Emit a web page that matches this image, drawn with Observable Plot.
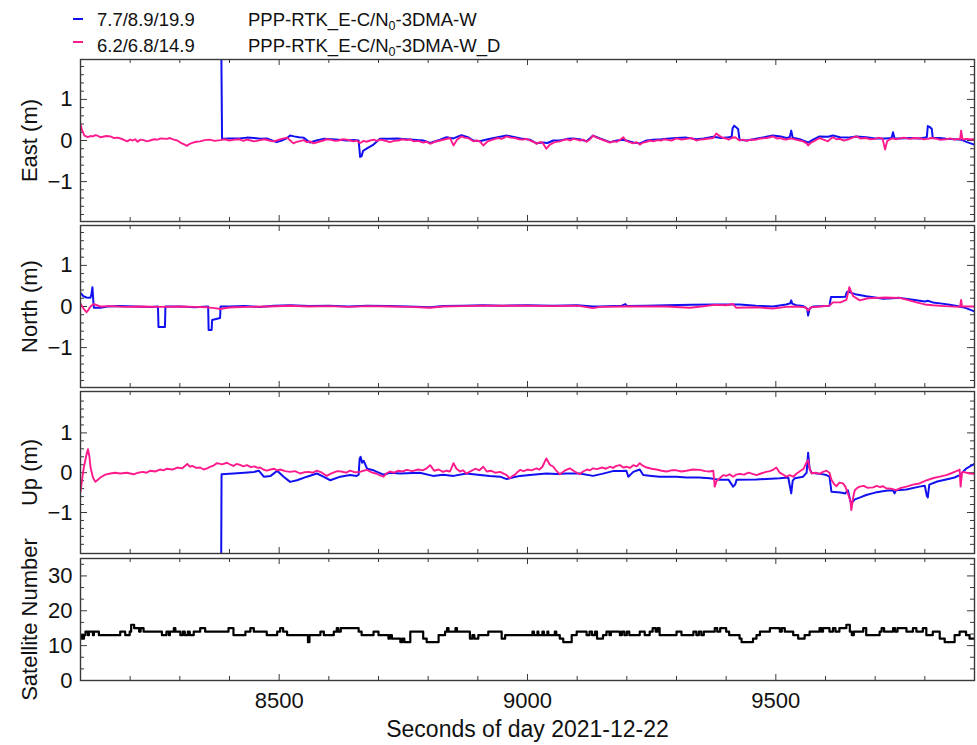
<!DOCTYPE html>
<html><head><meta charset="utf-8">
<script src="https://cdn.jsdelivr.net/npm/d3@7"></script>
<script src="https://cdn.jsdelivr.net/npm/@observablehq/plot@0.6"></script>
<style>
body{margin:0;background:#fff;font-family:"Liberation Sans",Arial,sans-serif;}
#wrap{position:relative;width:977px;height:745px;overflow:hidden;background:#fff;}
.panel{position:absolute;left:0;}
.leg{position:absolute;font-size:18.5px;color:#111;white-space:nowrap;line-height:1;}
.leg sub{font-size:0.68em;vertical-align:-0.3em;line-height:0;}
.sw{position:absolute;width:10px;height:2px;}
</style></head><body>
<div id="wrap">
  <div class="sw" style="left:73px;top:18px;background:#1010f0"></div>
  <div class="leg" style="left:97px;top:11px">7.7/8.9/19.9</div>
  <div class="leg" style="left:248px;top:11px">PPP-RTK_E-C/N<sub>0</sub>-3DMA-W</div>
  <div class="sw" style="left:73px;top:41px;background:#ff1a8c"></div>
  <div class="leg" style="left:97px;top:37px">6.2/6.8/14.9</div>
  <div class="leg" style="left:248px;top:37px">PPP-RTK_E-C/N<sub>0</sub>-3DMA-W_D</div>
</div>
<script>
// ---- data (seconds of day, metres) ----
const seriesNames = ["PPP-RTK_E-C/N0-3DMA-W", "PPP-RTK_E-C/N0-3DMA-W_D"];
const seriesColors = ["#1010f0", "#ff1a8c"];

const eastW = [[8100,3],[8383,3],[8385,0.04],[8400,0.05],[8420,0.05],[8435,0.07],[8450,0.06],[8462,0.04],[8475,0.05],[8495,-0.04],[8505,0.0],[8516,0.06],[8522,0.12],[8530,0.1],[8540,0.08],[8549,0.07],[8562,-0.05],[8575,0.0],[8589,0.04],[8605,0.03],[8620,0.02],[8636,0.0],[8650,0.01],[8660,0.0],[8663,-0.4],[8666,-0.38],[8669,-0.25],[8676,-0.2],[8690,-0.1],[8703,0.04],[8720,0.04],[8737,0.05],[8757,0.03],[8770,0.02],[8790,0.0],[8804,-0.06],[8824,0.02],[8837,0.08],[8851,0.05],[8867,0.13],[8880,0.08],[8891,0.0],[8904,-0.02],[8920,0.03],[8940,0.08],[8958,0.12],[8975,0.08],[8991,0.04],[9005,0.02],[9018,-0.07],[9030,-0.05],[9040,-0.06],[9052,0.0],[9065,0.0],[9080,0.04],[9092,0.05],[9105,0.03],[9119,-0.02],[9132,0.12],[9146,0.05],[9166,-0.04],[9180,0.0],[9193,0.02],[9213,-0.05],[9226,-0.07],[9240,0.0],[9253,0.02],[9270,0.03],[9280,0.04],[9300,0.06],[9320,0.07],[9340,0.03],[9355,0.05],[9374,0.09],[9390,0.06],[9405,0.08],[9411,0.09],[9413,0.3],[9416,0.36],[9420,0.32],[9424,0.28],[9427,0.02],[9441,0.0],[9460,0.04],[9481,0.09],[9494,0.12],[9510,0.1],[9521,0.06],[9528,0.08],[9531,0.24],[9534,0.07],[9548,0.03],[9565,-0.05],[9575,0.02],[9588,0.1],[9605,0.09],[9615,0.12],[9629,0.08],[9645,0.07],[9662,0.1],[9682,0.08],[9700,0.05],[9722,0.05],[9733,0.06],[9736,0.2],[9739,0.05],[9749,0.05],[9769,0.06],[9790,0.05],[9804,0.08],[9806,0.35],[9810,0.33],[9814,0.28],[9816,0.06],[9830,0.06],[9843,0.04],[9860,0.03],[9873,0.02],[9885,-0.04],[9900,-0.1]];

const eastWD = [[8100,0.4],[8103,0.25],[8108,0.12],[8115,0.08],[8120,0.11],[8125,0.1],[8130,0.13],[8134,0.12],[8140,0.08],[8145,0.09],[8152,0.11],[8160,0.1],[8168,0.06],[8175,0.07],[8185,0.03],[8194,-0.02],[8200,0.02],[8205,0.0],[8210,0.03],[8215,-0.03],[8220,0.02],[8227,0.01],[8234,-0.02],[8240,0.0],[8248,0.03],[8255,0.02],[8262,0.05],[8274,0.04],[8280,0.06],[8288,0.02],[8295,0.0],[8301,-0.05],[8310,-0.1],[8314,-0.13],[8320,-0.08],[8325,-0.06],[8333,-0.03],[8341,-0.02],[8350,0.01],[8360,0.02],[8370,-0.01],[8382,0.01],[8390,0.03],[8400,0.0],[8410,0.02],[8420,0.03],[8428,-0.01],[8435,0.02],[8443,0.0],[8450,-0.02],[8462,0.01],[8470,0.03],[8480,0.0],[8488,-0.02],[8495,0.0],[8505,0.04],[8516,0.07],[8525,-0.03],[8529,-0.07],[8535,-0.03],[8540,-0.02],[8549,0.01],[8556,-0.04],[8562,-0.02],[8569,-0.07],[8580,-0.03],[8589,0.0],[8596,0.03],[8603,0.02],[8612,-0.01],[8620,0.0],[8628,0.03],[8636,0.02],[8643,0.0],[8650,-0.02],[8656,0.0],[8663,-0.06],[8670,-0.01],[8676,-0.03],[8683,0.0],[8690,0.02],[8697,-0.01],[8703,0.02],[8712,0.0],[8723,-0.04],[8731,-0.01],[8740,0.0],[8748,0.03],[8757,0.01],[8764,0.03],[8770,-0.02],[8780,-0.01],[8790,-0.05],[8797,-0.03],[8804,-0.08],[8814,-0.03],[8824,0.0],[8834,0.03],[8844,0.06],[8851,-0.12],[8858,0.02],[8867,0.1],[8873,0.07],[8880,0.06],[8886,0.02],[8891,-0.02],[8898,0.0],[8904,-0.02],[8911,-0.12],[8920,-0.02],[8930,0.02],[8940,0.06],[8948,0.04],[8958,0.1],[8966,0.07],[8975,0.06],[8983,0.03],[8991,0.02],[8998,0.04],[9005,0.0],[9012,-0.03],[9018,-0.08],[9025,-0.04],[9030,-0.05],[9038,-0.2],[9045,-0.1],[9055,-0.04],[9065,-0.02],[9072,0.01],[9080,0.03],[9086,0.0],[9092,0.04],[9100,0.02],[9106,0.0],[9113,0.02],[9119,-0.03],[9126,0.03],[9132,0.12],[9139,0.07],[9146,0.04],[9155,0.0],[9166,-0.05],[9173,-0.02],[9180,-0.03],[9187,0.02],[9193,0.08],[9198,0.0],[9205,-0.04],[9213,-0.07],[9220,-0.04],[9226,-0.1],[9233,-0.05],[9240,-0.03],[9247,0.0],[9253,-0.02],[9262,0.01],[9270,0.0],[9275,0.03],[9280,0.02],[9290,0.0],[9300,0.05],[9310,0.02],[9320,0.04],[9330,0.06],[9340,0.0],[9348,0.02],[9355,0.03],[9365,0.05],[9374,0.06],[9380,0.17],[9388,0.1],[9394,0.06],[9400,0.05],[9405,0.02],[9411,0.06],[9418,0.08],[9427,0.0],[9434,0.02],[9441,-0.01],[9450,0.02],[9460,0.02],[9470,0.05],[9481,0.06],[9488,0.08],[9494,0.1],[9502,0.05],[9510,0.06],[9516,0.03],[9521,0.02],[9526,0.04],[9531,0.05],[9540,0.02],[9548,0.0],[9555,-0.02],[9562,-0.07],[9565,-0.12],[9570,-0.06],[9575,-0.03],[9582,0.02],[9588,0.06],[9596,0.02],[9605,-0.02],[9610,0.04],[9615,0.08],[9622,0.03],[9629,0.04],[9637,0.0],[9645,0.02],[9652,0.06],[9662,0.1],[9670,0.05],[9682,0.06],[9690,0.03],[9700,0.04],[9707,0.07],[9715,0.04],[9720,-0.22],[9724,-0.02],[9730,0.03],[9736,0.05],[9742,0.03],[9749,0.05],[9758,0.07],[9769,0.04],[9778,0.06],[9790,0.05],[9798,0.03],[9806,0.04],[9812,0.06],[9820,0.05],[9830,0.02],[9843,0.03],[9851,0.05],[9860,0.02],[9866,0.04],[9871,0.03],[9873,0.24],[9876,0.02],[9883,0.04],[9890,0.03],[9900,0.03]];

const northW = [[8100,0.33],[8106,0.25],[8112,0.22],[8120,0.21],[8122,0.3],[8124,0.47],[8126,0.1],[8127,-0.03],[8140,-0.03],[8154,0.0],[8180,0.01],[8210,0.0],[8240,-0.01],[8256,0.0],[8257,-0.5],[8270,-0.5],[8271,0.0],[8300,0.0],[8330,-0.02],[8357,0.0],[8358,-0.57],[8364,-0.57],[8365,-0.33],[8381,-0.28],[8382,0.0],[8400,0.0],[8430,0.01],[8460,-0.01],[8490,0.02],[8522,0.03],[8560,0.01],[8600,0.02],[8640,0.0],[8677,0.02],[8720,0.01],[8760,0.0],[8804,-0.02],[8830,0.01],[8870,0.02],[8910,0.03],[8950,0.02],[9000,0.03],[9050,0.02],[9100,0.03],[9132,0.0],[9146,0.0],[9190,0.02],[9197,0.06],[9200,0.01],[9240,0.02],[9280,0.03],[9330,0.04],[9380,0.05],[9427,0.05],[9460,0.02],[9494,0.0],[9521,0.05],[9529,0.08],[9531,0.15],[9533,0.07],[9541,0.03],[9555,0.01],[9563,-0.05],[9565,-0.22],[9568,-0.05],[9575,0.0],[9595,0.01],[9608,0.02],[9611,0.23],[9630,0.23],[9640,0.24],[9643,0.35],[9646,0.37],[9652,0.33],[9660,0.3],[9682,0.25],[9700,0.22],[9716,0.19],[9735,0.2],[9749,0.21],[9765,0.18],[9783,0.15],[9800,0.12],[9806,0.14],[9816,0.1],[9835,0.07],[9850,0.04],[9870,0.0],[9883,-0.04],[9900,-0.12]];

const northWD = [[8100,0.07],[8106,-0.05],[8112,-0.14],[8116,-0.08],[8120,0.0],[8127,0.06],[8140,0.0],[8160,0.01],[8190,-0.01],[8220,0.0],[8260,-0.01],[8300,0.0],[8330,-0.01],[8355,-0.02],[8370,-0.04],[8382,-0.06],[8395,-0.03],[8408,-0.02],[8440,-0.01],[8480,0.0],[8522,0.02],[8560,0.0],[8600,0.01],[8640,-0.01],[8680,0.01],[8720,0.0],[8760,-0.01],[8804,-0.03],[8830,0.0],[8870,0.01],[8910,0.02],[8950,0.02],[9000,0.02],[9050,0.01],[9100,0.02],[9132,-0.04],[9146,-0.01],[9199,0.0],[9240,0.0],[9280,0.0],[9327,-0.03],[9350,0.0],[9377,0.04],[9400,0.03],[9414,0.06],[9420,-0.03],[9460,-0.02],[9494,-0.05],[9521,-0.01],[9540,0.0],[9560,-0.02],[9565,-0.1],[9570,-0.02],[9590,0.0],[9608,0.02],[9615,0.1],[9630,0.1],[9642,0.16],[9648,0.47],[9652,0.35],[9656,0.25],[9669,0.15],[9685,0.2],[9702,0.21],[9720,0.22],[9749,0.21],[9765,0.16],[9783,0.1],[9800,0.05],[9816,0.03],[9840,0.01],[9868,-0.01],[9871,0.0],[9873,0.16],[9875,0.0],[9890,0.0],[9900,0.0]];

const upW = [[8100,-3],[8383,-3],[8384,-0.04],[8408,-0.02],[8430,0.0],[8449,0.02],[8459,0.05],[8469,-0.1],[8483,-0.08],[8496,0.05],[8509,-0.1],[8522,-0.23],[8536,-0.19],[8556,-0.1],[8576,-0.02],[8589,-0.1],[8603,-0.19],[8623,-0.1],[8643,-0.06],[8656,-0.08],[8660,-0.05],[8662,0.35],[8664,0.4],[8667,0.25],[8670,0.3],[8677,0.1],[8690,0.06],[8710,-0.05],[8723,0.0],[8744,-0.02],[8783,0.0],[8810,-0.08],[8830,-0.05],[8851,-0.08],[8877,-0.02],[8900,-0.05],[8924,-0.08],[8945,-0.1],[8958,-0.16],[8970,-0.12],[8985,-0.08],[9010,-0.05],[9038,-0.02],[9060,-0.03],[9078,-0.02],[9105,-0.02],[9132,-0.08],[9150,-0.03],[9172,0.04],[9190,0.04],[9199,0.05],[9203,-0.1],[9213,0.02],[9226,0.08],[9233,-0.06],[9250,-0.08],[9266,-0.1],[9300,-0.1],[9320,-0.12],[9345,-0.12],[9367,-0.14],[9387,-0.18],[9405,-0.18],[9414,-0.35],[9418,-0.3],[9421,-0.18],[9461,-0.17],[9490,-0.15],[9508,-0.14],[9525,-0.12],[9531,-0.52],[9534,-0.2],[9538,-0.14],[9555,-0.1],[9562,0.0],[9565,0.5],[9568,0.1],[9572,0.0],[9590,-0.03],[9602,-0.06],[9608,-0.1],[9612,-0.48],[9630,-0.5],[9640,-0.52],[9645,-0.44],[9650,-0.7],[9652,-0.77],[9659,-0.67],[9670,-0.62],[9682,-0.56],[9700,-0.5],[9709,-0.48],[9725,-0.45],[9736,-0.44],[9739,-0.52],[9742,-0.44],[9763,-0.42],[9789,-0.35],[9800,-0.33],[9804,-0.58],[9806,-0.62],[9809,-0.3],[9825,-0.22],[9843,-0.17],[9860,-0.12],[9870,-0.06],[9883,0.1],[9900,0.22]];

const upWD = [[8100,-0.48],[8104,-0.1],[8107,0.15],[8112,0.45],[8115,0.59],[8118,0.4],[8120,0.15],[8125,-0.12],[8130,-0.23],[8135,-0.18],[8140,-0.12],[8150,-0.05],[8160,-0.02],[8170,0.0],[8180,-0.02],[8193,0.0],[8207,-0.04],[8216,0.0],[8225,0.02],[8233,0.0],[8241,0.05],[8250,0.03],[8260,0.08],[8267,0.06],[8274,0.1],[8285,0.08],[8295,0.13],[8305,0.11],[8315,0.22],[8320,0.15],[8325,0.17],[8333,0.12],[8341,0.13],[8348,0.08],[8355,0.11],[8362,0.15],[8368,0.18],[8375,0.24],[8385,0.21],[8395,0.25],[8402,0.2],[8408,0.17],[8414,0.22],[8420,0.2],[8428,0.16],[8435,0.19],[8443,0.14],[8450,0.16],[8457,0.12],[8462,0.13],[8468,0.08],[8475,0.05],[8483,0.08],[8490,0.1],[8496,0.06],[8502,0.08],[8512,0.04],[8522,0.02],[8532,0.04],[8542,-0.02],[8550,0.01],[8560,0.02],[8568,0.0],[8576,0.05],[8586,0.0],[8596,-0.08],[8603,-0.03],[8609,0.0],[8617,0.04],[8625,0.03],[8635,0.0],[8643,0.05],[8653,0.01],[8663,0.02],[8670,0.05],[8677,0.07],[8686,0.01],[8695,-0.02],[8702,-0.06],[8710,-0.1],[8716,-0.02],[8723,0.03],[8731,0.0],[8740,0.05],[8748,0.03],[8757,0.07],[8768,0.04],[8780,0.08],[8789,0.06],[8797,0.11],[8804,0.19],[8812,0.05],[8821,0.08],[8830,0.02],[8837,0.05],[8844,0.03],[8851,0.24],[8857,0.1],[8864,0.03],[8870,0.06],[8877,-0.02],[8886,0.04],[8895,0.1],[8903,0.06],[8911,0.15],[8918,0.03],[8926,0.05],[8935,0.0],[8945,0.02],[8958,-0.06],[8964,-0.14],[8970,-0.08],[8975,-0.05],[8980,0.02],[8985,0.07],[8992,0.04],[9000,0.08],[9008,0.06],[9018,0.11],[9024,0.08],[9030,0.15],[9038,0.36],[9045,0.2],[9052,0.15],[9058,0.05],[9065,-0.04],[9075,0.05],[9085,0.11],[9095,0.03],[9105,-0.04],[9112,0.03],[9120,0.08],[9126,0.06],[9132,0.11],[9140,0.09],[9150,0.13],[9158,0.1],[9166,0.15],[9172,0.12],[9179,0.17],[9186,0.19],[9193,0.13],[9200,0.15],[9206,0.12],[9213,0.19],[9220,0.16],[9226,0.24],[9233,0.17],[9240,0.13],[9250,0.1],[9260,0.08],[9270,0.05],[9280,0.03],[9290,0.06],[9300,0.06],[9310,0.03],[9320,0.05],[9333,0.08],[9347,0.07],[9358,0.04],[9367,0.03],[9374,0.05],[9377,-0.35],[9381,-0.2],[9387,-0.14],[9394,-0.06],[9400,-0.08],[9407,-0.04],[9414,-0.1],[9420,-0.05],[9427,-0.03],[9436,-0.05],[9445,0.0],[9453,-0.03],[9461,-0.06],[9470,-0.02],[9480,0.02],[9488,0.04],[9494,0.07],[9501,0.13],[9508,0.0],[9514,-0.04],[9521,-0.1],[9528,-0.06],[9535,-0.1],[9542,-0.02],[9550,0.05],[9556,0.1],[9561,0.24],[9565,0.32],[9568,0.1],[9572,-0.02],[9580,0.0],[9588,-0.03],[9595,0.02],[9602,0.05],[9608,0.0],[9612,-0.18],[9617,-0.28],[9622,-0.34],[9628,-0.25],[9635,-0.27],[9640,-0.35],[9645,-0.52],[9650,-0.7],[9652,-0.94],[9656,-0.6],[9659,-0.44],[9664,-0.38],[9669,-0.35],[9677,-0.33],[9685,-0.38],[9696,-0.37],[9703,-0.33],[9710,-0.36],[9716,-0.34],[9722,-0.39],[9732,-0.4],[9742,-0.44],[9752,-0.38],[9763,-0.35],[9776,-0.3],[9789,-0.27],[9802,-0.2],[9816,-0.14],[9830,-0.1],[9843,-0.06],[9852,-0.02],[9860,0.02],[9866,0.05],[9870,0.08],[9872,-0.35],[9875,0.0],[9877,0.02],[9884,0.0],[9890,-0.02],[9900,-0.03]];

const satNum = [[8100,12],[8103,13],[8105,12],[8107,13],[8110,14],[8115,13],[8117,14],[8125,13],[8127,14],[8137,13],[8180,14],[8190,13],[8199,14],[8202,16],[8208,15],[8218,14],[8221,15],[8227,14],[8264,13],[8273,14],[8278,13],[8280,14],[8288,15],[8291,14],[8301,13],[8306,14],[8310,13],[8316,14],[8320,13],[8328,14],[8341,15],[8351,14],[8398,15],[8408,13],[8432,14],[8442,15],[8449,14],[8475,13],[8496,14],[8502,15],[8508,14],[8516,13],[8558,11],[8561,13],[8583,14],[8590,13],[8610,14],[8616,15],[8619,14],[8624,15],[8660,14],[8666,13],[8690,14],[8700,13],[8720,12],[8723,13],[8727,12],[8744,11],[8748,12],[8752,11],[8764,14],[8790,12],[8797,11],[8821,13],[8834,14],[8838,15],[8841,14],[8855,15],[8858,14],[8884,12],[8889,13],[8893,12],[8901,13],[8921,14],[8948,12],[8955,13],[9010,14],[9013,13],[9020,14],[9022,13],[9030,14],[9033,13],[9040,14],[9042,13],[9055,14],[9058,13],[9065,12],[9072,11],[9089,13],[9099,14],[9119,13],[9125,14],[9130,13],[9136,14],[9140,12],[9152,13],[9159,14],[9165,13],[9168,14],[9186,13],[9190,14],[9195,13],[9200,14],[9205,13],[9226,14],[9236,13],[9246,14],[9252,15],[9258,14],[9262,15],[9266,13],[9300,14],[9310,13],[9334,14],[9340,13],[9345,14],[9350,13],[9355,14],[9377,15],[9382,14],[9388,15],[9400,14],[9406,13],[9427,12],[9431,11],[9454,12],[9461,13],[9468,14],[9488,15],[9508,14],[9512,15],[9518,14],[9535,13],[9545,12],[9558,13],[9568,14],[9588,15],[9592,14],[9595,15],[9608,14],[9615,15],[9620,14],[9628,15],[9642,16],[9649,14],[9653,13],[9657,14],[9676,15],[9682,13],[9709,14],[9713,15],[9718,14],[9736,15],[9740,14],[9745,15],[9763,14],[9776,15],[9783,14],[9796,15],[9803,13],[9816,14],[9830,12],[9840,11],[9860,13],[9870,14],[9883,13],[9890,12],[9900,12]];

// ---- ticks ----
const xDomain = [8100, 9900];
const xMajor = [8500, 9000, 9500];
const xMinor = [8100, 8200, 8300, 8400, 8600, 8700, 8800, 8900, 9100, 9200, 9300, 9400, 9600, 9700, 9800, 9900];
const posMajor = [-1, 0, 1];
const posMinor = [-1.8, -1.6, -1.4, -1.2, -0.8, -0.6, -0.4, -0.2, 0.2, 0.4, 0.6, 0.8, 1.2, 1.4, 1.6, 1.8];
const satMajor = [0, 10, 20, 30];
const satMinor = [3.333, 6.667, 13.333, 16.667, 23.333, 26.667, 33.333];

// ---- layout ----
const W = 977, ML = 80, MR = 3;
const FW = W - ML - MR;
const AX = "#3a3a3a";
const FONT = "Liberation Sans, Arial, sans-serif";
const toObj = a => a.map(([t, v]) => ({t, v}));

function panel({top, h, mt, mb, domain, label, lines, yMajor, yMinor, bottom, step}) {
  const marks = [];
  marks.push(Plot.tickY(yMinor, {y: d => d, insetRight: FW - 4, stroke: AX, strokeWidth: 1}));
  marks.push(Plot.tickY(yMinor, {y: d => d, insetLeft: FW - 4, stroke: AX, strokeWidth: 1}));
  marks.push(Plot.tickY(yMajor, {y: d => d, insetRight: FW - 7, stroke: AX, strokeWidth: 1}));
  marks.push(Plot.tickY(yMajor, {y: d => d, insetLeft: FW - 7, stroke: AX, strokeWidth: 1}));
  marks.push(Plot.tickX(xMinor, {x: d => d, insetBottom: h - 4, stroke: AX, strokeWidth: 1}));
  marks.push(Plot.tickX(xMinor, {x: d => d, insetTop: h - 4, stroke: AX, strokeWidth: 1}));
  marks.push(Plot.tickX(xMajor, {x: d => d, insetBottom: h - 6, stroke: AX, strokeWidth: 1}));
  marks.push(Plot.tickX(xMajor, {x: d => d, insetTop: h - 6, stroke: AX, strokeWidth: 1}));
  for (const ln of lines) {
    marks.push(Plot.line(toObj(ln.data), {x: "t", y: "v", stroke: ln.color, strokeWidth: ln.width, clip: true, strokeLinejoin: "round", curve: step ? "step-after" : "linear"}));
  }
  marks.push(Plot.frame({stroke: AX, strokeWidth: 1.4}));
  marks.push(Plot.axisY(yMajor, {tickSize: 0, tickPadding: 8, fontSize: 22, label: null, fill: "#111"}));
  marks.push(Plot.text([label], {text: d => d, frameAnchor: "left", textAnchor: "middle", lineAnchor: "middle", dx: -51, rotate: -90, fontSize: 22, fill: "#111"}));
  if (bottom) {
    marks.push(Plot.axisX(xMajor, {tickSize: 0, tickPadding: 12, fontSize: 22, label: null, fill: "#111", tickFormat: d => String(d)}));
    marks.push(Plot.text([bottom], {text: d => d, frameAnchor: "bottom", textAnchor: "middle", dy: 56, fontSize: 23, fill: "#111"}));
  }
  const svg = Plot.plot({
    width: W, height: h + mt + mb,
    marginLeft: ML, marginRight: MR, marginTop: mt, marginBottom: mb,
    x: {domain: xDomain, axis: bottom ? undefined : null},
    y: {domain},
    style: {background: "none", overflow: "visible", fontFamily: FONT, color: "#111"},
    marks
  });
  svg.classList.add("panel");
  svg.style.position = "absolute";
  svg.style.left = "0px";
  svg.style.top = (top - mt) + "px";
  document.getElementById("wrap").appendChild(svg);
}

panel({top: 59, h: 162, mt: 3, mb: 3, domain: [-1.97, 1.97], label: "East (m)",
  lines: [{data: eastW, color: seriesColors[0], width: 2}, {data: eastWD, color: seriesColors[1], width: 1.9}],
  yMajor: posMajor, yMinor: posMinor});
panel({top: 225, h: 162, mt: 3, mb: 3, domain: [-1.97, 1.97], label: "North (m)",
  lines: [{data: northW, color: seriesColors[0], width: 2}, {data: northWD, color: seriesColors[1], width: 1.9}],
  yMajor: posMajor, yMinor: posMinor});
panel({top: 391, h: 162, mt: 3, mb: 3, domain: [-2.03, 2.04], label: "Up (m)",
  lines: [{data: upW, color: seriesColors[0], width: 2}, {data: upWD, color: seriesColors[1], width: 1.9}],
  yMajor: posMajor, yMinor: posMinor});
panel({top: 558, h: 122, mt: 3, mb: 65, domain: [0, 35], label: "Satellite Number",
  lines: [{data: satNum, color: "#000", width: 2.2}],
  yMajor: satMajor, yMinor: satMinor, bottom: "Seconds of day 2021-12-22", step: true});
</script>
</body></html>
